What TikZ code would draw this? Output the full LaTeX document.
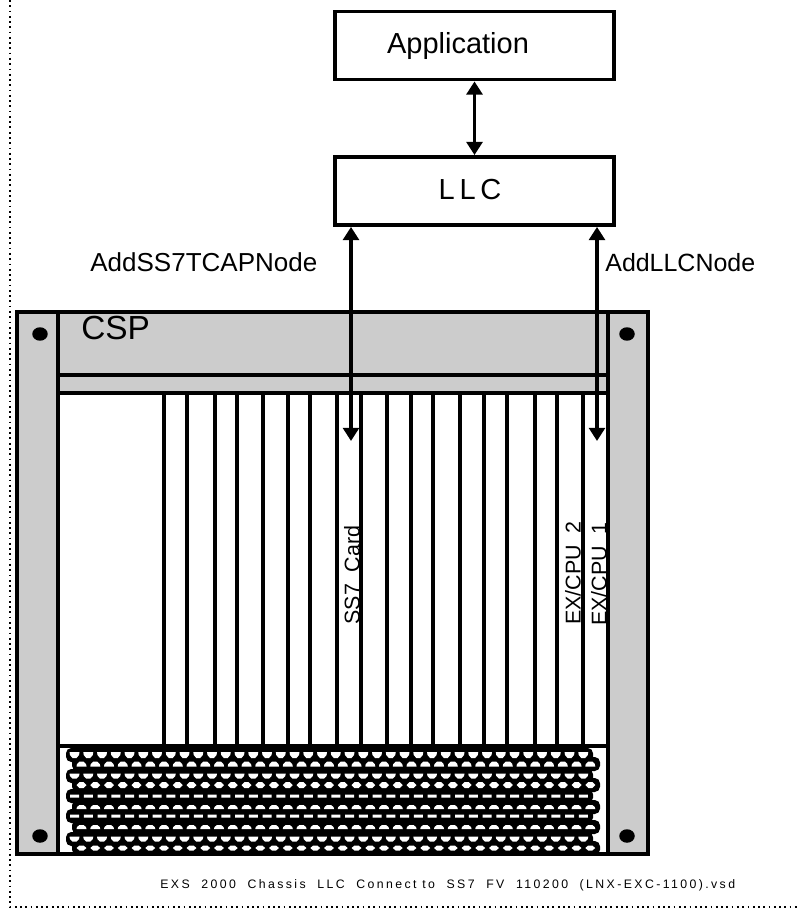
\documentclass[tikz,border=0pt]{standalone}
\usepackage{xcolor}
\usepackage{fontspec}
\usepackage{tikz}
\usetikzlibrary{arrows.meta, shapes.geometric}
\setmainfont{Liberation Sans}
\newfontfamily\footfont[LetterSpace=19.5]{Liberation Sans}
\definecolor{chassisgray}{HTML}{CCCCCC}
\tikzset{
    blockbox/.style={draw, line width=2.2pt, minimum width=5.58cm, minimum height=1.36cm},
    blocktext/.style={font=\fontsize{16.5}{18}\selectfont},
    callname/.style={font=\fontsize{14.8}{16}\selectfont, anchor=base west},
    cardname/.style={font=\fontsize{12.2}{14}\selectfont, rotate=90},
    link/.style={line width=2pt, {Triangle[length=7.5pt,width=9pt]}-{Triangle[length=7.5pt,width=9pt]}},
    rackline/.style={line width=2pt},
    screwhole/.style={fill=black, ellipse, minimum width=0.31cm, minimum height=0.27cm, inner sep=0pt}
}
\begin{document}
\begin{tikzpicture}[x=0.02cm, y=-0.02cm]
    \useasboundingbox (0, 0) rectangle (798, 908);

    % Page edge
    \draw[dotted, line width=1pt] (10, 0) -- (10, 907) -- (798, 907);

    % Rack body
    \draw[rackline, fill=chassisgray] (17, 312) rectangle (648, 854);
    \draw[rackline, fill=white] (58, 393) rectangle (608, 854);
    \draw[rackline] (58, 312) -- (58, 393);
    \draw[rackline] (608, 312) -- (608, 393);
    \draw[rackline] (58, 375) -- (608, 375);

    % Card edges
    \foreach \x in {164, 187, 215, 237, 263, 288, 310, 337, 361, 387, 411, 433, 460, 484, 507, 535, 557, 583} {
        \draw[rackline] (\x, 393) -- (\x, 746);
    }
    \draw[rackline] (58, 746) -- (608, 746);

    % Vent holes
    \foreach \y/\s in {755/0, 764/1, 776/0, 785/1, 796/0, 807/1, 816/0, 827/1, 839/0, 848/1} {
        \fill[rounded corners=3] ({66+6*\s}, \y-7) rectangle ({593+7*\s}, \y+7);
    }
    \foreach \y/\w/\m/\b/\h/\s in {
        755/5/4.5/2/6/0, 764/2/4.5/5/5/1, 776/5/4.5/2/5/0, 785/2/5/2/6/1, 796/4.5/4.5/4.5/3/0,
        807/2/4.5/5/4/1, 816/4.5/4.5/4.5/3/0, 827/2/4.5/5/4/1, 839/5/4.5/2/5/0, 848/2/5/2/5/1} {
        \foreach \k in {0,...,37} {
            \pgfmathsetmacro{\cx}{74.5+7*\s+13.75*\k}
            \fill[white] (\cx-\w, \y-\h/2) -- (\cx-\m, \y) -- (\cx-\b, \y+\h/2)
                -- (\cx+\b, \y+\h/2) -- (\cx+\m, \y) -- (\cx+\w, \y-\h/2) -- cycle;
        }
    }

    % Screws
    \node[screwhole] (screwtl) at (40, 334) {};
    \node[screwhole] (screwtr) at (627, 334) {};
    \node[screwhole] (screwbl) at (40, 836) {};
    \node[screwhole] (screwbr) at (627, 836) {};

    % Software blocks
    \node[blockbox] (application) at (474.5, 45.5) {};
    \node[blockbox] (llc) at (474.5, 191) {};
    \node[blocktext] (applabel) at (458, 46) {Application};
    \node[blocktext] (llclabel) at (470, 190) {L\,L\,C};

    % Arrows
    \coordinate (ss7end) at (351, 441);
    \coordinate (cpuend) at (597, 441);
    \draw[link] (application) -- (llc);
    \draw[link] (llc.south -| ss7end) -- (ss7end);
    \draw[link] (llc.south -| cpuend) -- (cpuend);

    % Labels
    \node[callname, inner sep=0pt] (addss7) at (90, 272) {AddSS7TCAPNode};
    \node[callname, font=\fontsize{14.2}{16}\selectfont, inner sep=0pt] (addllc) at (605, 272) {AddLLCNode};
    \node[font=\fontsize{19}{21}\selectfont, anchor=base west, inner sep=0pt] (csp) at (81, 339) {CSP};
    \node[cardname] (ss7card) at (352, 575) {SS7\ \ Card};
    \node[cardname] (cpu2) at (573, 573) {EX/CPU\ \ 2};
    \node[cardname] (cpu1) at (599, 574) {EX/CPU\ \ 1};
    \node[font=\footfont\fontsize{7}{8}\selectfont, anchor=base west, inner sep=0pt] (footer) at (160, 888)
        {EXS\ \ 2000\ \ Chassis\ \ LLC\ \ Connect to\ \ SS7\ \ FV\ \ 110200\ \ (LNX-EXC-1100).vsd};
\end{tikzpicture}
\end{document}
